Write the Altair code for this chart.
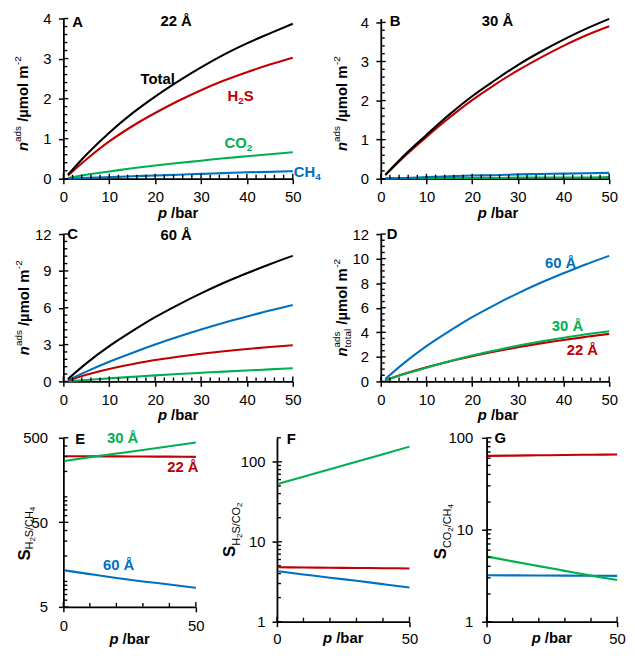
import altair as alt
import pandas as pd

FONT = "Liberation Sans"
BLACK = "#000000"
RED = "#C00000"
GREEN = "#00B050"
BLUE = "#0070C0"

# ---------------- data ----------------
p = [1, 5, 10, 15, 20, 25, 30, 35, 40, 45, 50]
a_total = [0.10, 0.60, 1.15, 1.63, 2.05, 2.43, 2.78, 3.10, 3.38, 3.63, 3.87]
a_h2s = [0.08, 0.48, 0.93, 1.31, 1.64, 1.94, 2.21, 2.45, 2.66, 2.85, 3.02]
a_co2 = [0.02, 0.10, 0.18, 0.26, 0.33, 0.39, 0.45, 0.51, 0.56, 0.61, 0.66]
a_ch4 = [0.00, 0.02, 0.04, 0.06, 0.08, 0.10, 0.12, 0.14, 0.16, 0.17, 0.19]
b_total = [0.10, 0.58, 1.12, 1.64, 2.11, 2.52, 2.91, 3.25, 3.56, 3.84, 4.09]
b_h2s = [0.09, 0.55, 1.07, 1.56, 2.01, 2.41, 2.77, 3.10, 3.40, 3.67, 3.90]
b_ch4 = [0.01, 0.02, 0.04, 0.06, 0.08, 0.09, 0.11, 0.12, 0.13, 0.14, 0.15]
b_co2 = [0.00, 0.01, 0.01, 0.02, 0.02, 0.02, 0.03, 0.03, 0.03, 0.03, 0.04]
c_total = [0.20, 1.47, 2.87, 4.09, 5.23, 6.24, 7.17, 8.03, 8.81, 9.55, 10.23]
c_ch4 = [0.10, 0.80, 1.60, 2.32, 3.00, 3.63, 4.22, 4.77, 5.28, 5.77, 6.22]
c_h2s = [0.08, 0.55, 1.02, 1.40, 1.74, 2.01, 2.25, 2.46, 2.64, 2.80, 2.94]
c_co2 = [0.02, 0.12, 0.25, 0.37, 0.49, 0.60, 0.70, 0.80, 0.89, 0.98, 1.07]
p_sel = [0.5, 10, 20, 30, 40, 50]
e_30 = [266, 295, 325, 358, 398, 440]
e_22 = [303, 302, 301, 300, 299, 297]
e_60 = [13.5, 12.2, 11.0, 10.0, 9.2, 8.4]
f_30 = [53, 65, 81, 100, 124, 155]
f_22 = [4.80, 4.77, 4.73, 4.70, 4.67, 4.64]
f_60 = [4.27, 3.90, 3.55, 3.25, 2.95, 2.68]
g_22 = [63.6, 64.0, 64.5, 65.0, 65.4, 65.8]
g_30 = [5.10, 4.53, 4.02, 3.57, 3.17, 2.84]
g_60 = [3.20, 3.19, 3.18, 3.17, 3.16, 3.15]

# tick values
x_major = [0, 10, 20, 30, 40, 50]
x_minor = [2, 4, 6, 8, 12, 14, 16, 18, 22, 24, 26, 28, 32, 34, 36, 38, 42, 44, 46, 48]
x_major_sel = [0, 50]
x_minor_sel = [10, 20, 30, 40]
ya_major = [0, 1, 2, 3, 4]
ya_minor = [0.2, 0.4, 0.6, 0.8, 1.2, 1.4, 1.6, 1.8, 2.2, 2.4, 2.6, 2.8, 3.2, 3.4, 3.6, 3.8]
yc_major = [0, 3, 6, 9, 12]
yc_minor = [0.6, 1.2, 1.8, 2.4, 3.6, 4.2, 4.8, 5.4, 6.6, 7.2, 7.8, 8.4, 9.6, 10.2, 10.8, 11.4]
yd_major = [0, 2, 4, 6, 8, 10, 12]
yd_minor = [0.5, 1, 1.5, 2.5, 3, 3.5, 4.5, 5, 5.5, 6.5, 7, 7.5, 8.5, 9, 9.5, 10.5, 11, 11.5]
ye_major = [5, 50, 500]
ye_minor = [6, 7, 8, 9, 10, 20, 30, 40, 60, 70, 80, 90, 100, 200, 300, 400]
yf_major = [1, 10, 100]
yf_minor = [2, 3, 4, 5, 6, 7, 8, 9, 20, 30, 40, 50, 60, 70, 80, 90, 200]
yg_major = [1, 10, 100]
yg_minor = [2, 3, 4, 5, 6, 7, 8, 9, 20, 30, 40, 50, 60, 70, 80, 90]

# Arial / Liberation Sans advance widths (per 1000 em)
REG = {" ": 278, "a": 556, "d": 556, "s": 500, "t": 278, "o": 556, "l": 222, "-": 333,
       "2": 556, "4": 556, "H": 722, "S": 667, "C": 722, "O": 778, "/": 278}
BOLD = {" ": 278, "/": 278, "µ": 611, "m": 889, "o": 611, "l": 278, "n": 611, "p": 611,
        "b": 611, "a": 556, "r": 389, "T": 611, "t": 333, "H": 722, "S": 667, "C": 722,
        "O": 778, "2": 556, "4": 556}

ONE = alt.Data(values=[{"k": 0}])


def tw(s, size, bold):
    tab = BOLD if bold else REG
    return sum(tab.get(ch, 556) for ch in s) * size / 1000.0


def txt(s, x, y, size=15, bold=True, italic=False, color=BLACK, angle=0,
        align="left", baseline="alphabetic"):
    kw = dict(text=s, font=FONT, fontSize=size,
              fontWeight="bold" if bold else "normal",
              fontStyle="italic" if italic else "normal",
              color=color, align=align, baseline=baseline)
    if angle:
        kw["angle"] = angle
    return alt.Chart(ONE).mark_text(**kw).encode(x=alt.value(x), y=alt.value(y))


def adv(pc):
    return pc[5] if len(pc) > 5 else tw(pc[0], pc[1], pc[2])


def rich_h(pieces, x, ybase, color=BLACK, center=False):
    total = sum(adv(pc) for pc in pieces)
    cx = x - total / 2 if center else x
    out = []
    for pc in pieces:
        t, s, b, it, sh = pc[:5]
        lead = len(t) - len(t.lstrip(" "))
        out.append(txt(t.lstrip(" "), cx + tw(" " * lead, s, b), ybase + sh, s, b, it, color))
        cx += adv(pc)
    return out


def rich_v(pieces, xbase, yc, color=BLACK):
    total = sum(adv(pc) for pc in pieces)
    cy = yc + total / 2
    out = []
    for pc in pieces:
        t, s, b, it, sh = pc[:5]
        lead = len(t) - len(t.lstrip(" "))
        out.append(txt(t.lstrip(" "), xbase + sh, cy - tw(" " * lead, s, b), s, b, it, color, angle=270))
        cy -= adv(pc)
    return out


NADS = [("n", 15, True, True, 0), ("ads", 10, False, False, -7),
        (" /µmol m", 15, True, False, 0), ("-2", 10, False, False, -7)]
NADS_TOT = [("n", 15, True, True, 0), ("ads", 10, False, False, -7, 0),
            ("total", 10, False, False, 4), (" /µmol m", 15, True, False, 0),
            ("-2", 10, False, False, -7)]
PBAR = [("p", 15, True, True, 0), (" /bar", 15, True, False, 0)]
S_H2S_CH4 = [("S", 17, True, False, 0), ("H", 11, False, False, 3), ("2", 8, False, False, 5),
             ("S/CH", 11, False, False, 3), ("4", 8, False, False, 5)]
S_H2S_CO2 = [("S", 17, True, False, 0), ("H", 11, False, False, 5), ("2", 8, False, False, 7),
             ("S/CO", 11, False, False, 5), ("2", 8, False, False, 7)]
S_CO2_CH4 = [("S", 17, True, False, 0), ("CO", 11, False, False, 5), ("2", 8, False, False, 7),
             ("/CH", 11, False, False, 5), ("4", 8, False, False, 7)]


def panel(W, H, box, series, xdom, ydom, ylog, xmaj, xmin, ymaj, ymin,
          xpad, ypad, texts):
    L, T, R, B = box
    xs = alt.Scale(domain=xdom, nice=False, zero=False)
    if ylog:
        ys = alt.Scale(type="log", domain=ydom, nice=False)
    else:
        ys = alt.Scale(domain=ydom, nice=False, zero=False)
    xax = alt.Axis(values=xmaj, title=None, labelPadding=xpad, format="d")
    yax = alt.Axis(values=ymaj, title=None, labelPadding=ypad, format="d")
    rows = []
    for xv, yv, col in series:
        for a, b in zip(xv, yv):
            rows.append({"p": a, "v": b, "c": col})
    df = pd.DataFrame(rows)
    layers = []
    # invisible frame that fixes the panel's share of the page
    layers.append(alt.Chart(ONE).mark_rect(opacity=0).encode(
        x=alt.value(-L), x2=alt.value(W + R), y=alt.value(-T), y2=alt.value(H + B)))

    def yt(vals, ln):
        return alt.Chart(pd.DataFrame({"v": vals})).mark_rule(color=BLACK, strokeWidth=1.4).encode(
            y=alt.Y("v:Q", scale=ys, axis=yax), x=alt.value(0), x2=alt.value(ln))

    def xt(vals, ln):
        return alt.Chart(pd.DataFrame({"p": vals})).mark_rule(color=BLACK, strokeWidth=1.4).encode(
            x=alt.X("p:Q", scale=xs, axis=xax), y=alt.value(H), y2=alt.value(H - ln))

    layers.append(alt.Chart(df).mark_line(strokeWidth=2.1, interpolate="monotone").encode(
        x=alt.X("p:Q", scale=xs, axis=xax),
        y=alt.Y("v:Q", scale=ys, axis=yax),
        color=alt.Color("c:N", scale=None),
        detail="c:N"))
    layers += [yt(ymaj, 5), yt(ymin, 4), xt(xmaj, 5), xt(xmin, 4)]
    layers += texts
    return alt.layer(*layers).properties(width=W, height=H)


def sub_label(main, subdigit, tail, x, yb, color):
    pcs = [(main, 15, True, False, 0), (subdigit, 10, True, False, 3)]
    if tail:
        pcs.append((tail, 15, True, False, 0))
    return rich_h(pcs, x, yb, color)


# ---------------- panels ----------------
WA, HA = 232, 162
A = panel(WA, HA, (56, 7, 30, 43),
          [(p, a_co2, GREEN), (p, a_ch4, BLUE), (p, a_h2s, RED), (p, a_total, BLACK)],
          [0, 50], [0, 4], False, x_major, x_minor, ya_major, ya_minor, 6, 7.5,
          [txt("A", 9, 8.4), txt("22 Å", 114, 7.4, align="center"),
           txt("Total", 78, 66.6)]
          + sub_label("H", "2", "S", 166, 83.4, RED)
          + sub_label("CO", "2", "", 163, 131.3, GREEN)
          + sub_label("CH", "4", "", 233, 160.5, BLUE)
          + rich_v(NADS, -36, HA / 2 + 5) + rich_h(PBAR, WA / 2, HA + 39.5, center=True))

WB, HB = 231, 162
B = panel(WB, HB, (59, 7, 10, 43),
          [(p, b_co2, GREEN), (p, b_ch4, BLUE), (p, b_h2s, RED), (p, b_total, BLACK)],
          [0, 50], [0, 4.1], False, x_major, x_minor, ya_major, ya_minor, 6, 7.5,
          [txt("B", 9, 7.4), txt("30 Å", 118, 7.4, align="center")]
          + rich_v(NADS, -34, HB / 2 + 5) + rich_h(PBAR, WB / 2 + 3, HB + 39.5, center=True))

WC, HC = 232, 149
C = panel(WC, HC, (56, 13, 30, 43),
          [(p, c_co2, GREEN), (p, c_h2s, RED), (p, c_ch4, BLUE), (p, c_total, BLACK)],
          [0, 50], [0, 12], False, x_major, x_minor, yc_major, yc_minor, 6, 7.5,
          [txt("C", 4, 5.4), txt("60 Å", 114, 6.4, align="center")]
          + rich_v(NADS, -35, HC / 2) + rich_h(PBAR, WC / 2, HC + 39.5, center=True))

WD, HD = 231, 149
D = panel(WD, HD, (59, 13, 10, 43),
          [(p, a_total, RED), (p, b_total, GREEN), (p, c_total, BLUE)],
          [0, 50], [0, 12], False, x_major, x_minor, yd_major, yd_minor, 6, 7.5,
          [txt("D", 6, 5.4),
           txt("60 Å", 166, 34.5, color=BLUE),
           txt("30 Å", 173, 98.1, color=GREEN),
           txt("22 Å", 188, 122.3, color=RED)]
          + rich_v(NADS_TOT, -34, HD / 2) + rich_h(PBAR, WD / 2 + 3, HD + 39.5, center=True))

WE, HE = 134, 171
E = panel(WE, HE, (48, 14, 18, 41),
          [(p_sel, e_60, BLUE), (p_sel, e_22, RED), (p_sel, e_30, GREEN)],
          [0, 50], [5, 500], True, x_major_sel, x_minor_sel, ye_major, ye_minor, 6.5, 11,
          [txt("E", 12, 6.4),
           txt("30 Å", 44, 5.4, color=GREEN),
           txt("22 Å", 105, 34.4, color=RED),
           txt("60 Å", 40, 133.4, color=BLUE)]
          + rich_v(S_H2S_CH4, -34, 97) + rich_h(PBAR, WE / 2, HE + 38, center=True))

WF, HF = 134, 186
F = panel(WF, HF, (64, 14, 17, 26),
          [(p_sel, f_60, BLUE), (p_sel, f_22, RED), (p_sel, f_30, GREEN)],
          [0, 50], [1, 200], True, x_major_sel, x_minor_sel, yf_major, yf_minor, 5.5, 7,
          [txt("F", 10, 6.4)]
          + rich_v(S_H2S_CO2, -42, HF / 2) + rich_h(PBAR, WF / 2, HF + 22, center=True))

WG, HG = 132, 186
G = panel(WG, HG, (61, 14, 10, 26),
          [(p_sel, g_60, BLUE), (p_sel, g_30, GREEN), (p_sel, g_22, RED)],
          [0, 50], [1, 100], True, x_major_sel, x_minor_sel, yg_major, yg_minor, 5.5, 9,
          [txt("G", 8, 5.4)]
          + rich_v(S_CO2_CH4, -41, HG / 2 + 2) + rich_h(PBAR, WG / 2, HG + 22, center=True))

row1 = alt.hconcat(A, B, spacing=0)
row2 = alt.hconcat(C, D, spacing=0)
row3 = alt.hconcat(E, F, G, spacing=0)

chart = alt.vconcat(row1, row2, row3, spacing=0).properties(padding=0).configure_view(
    stroke=None
).configure_axis(
    domainColor=BLACK, domainWidth=1.8, tickColor=BLACK, tickWidth=1.5, tickSize=5,
    labelFont=FONT, labelFontSize=15, labelColor=BLACK, grid=False,
    labelFlush=False, labelOverlap=False
)

chart.save("out.html", embed_options={"renderer": "svg", "actions": False})
